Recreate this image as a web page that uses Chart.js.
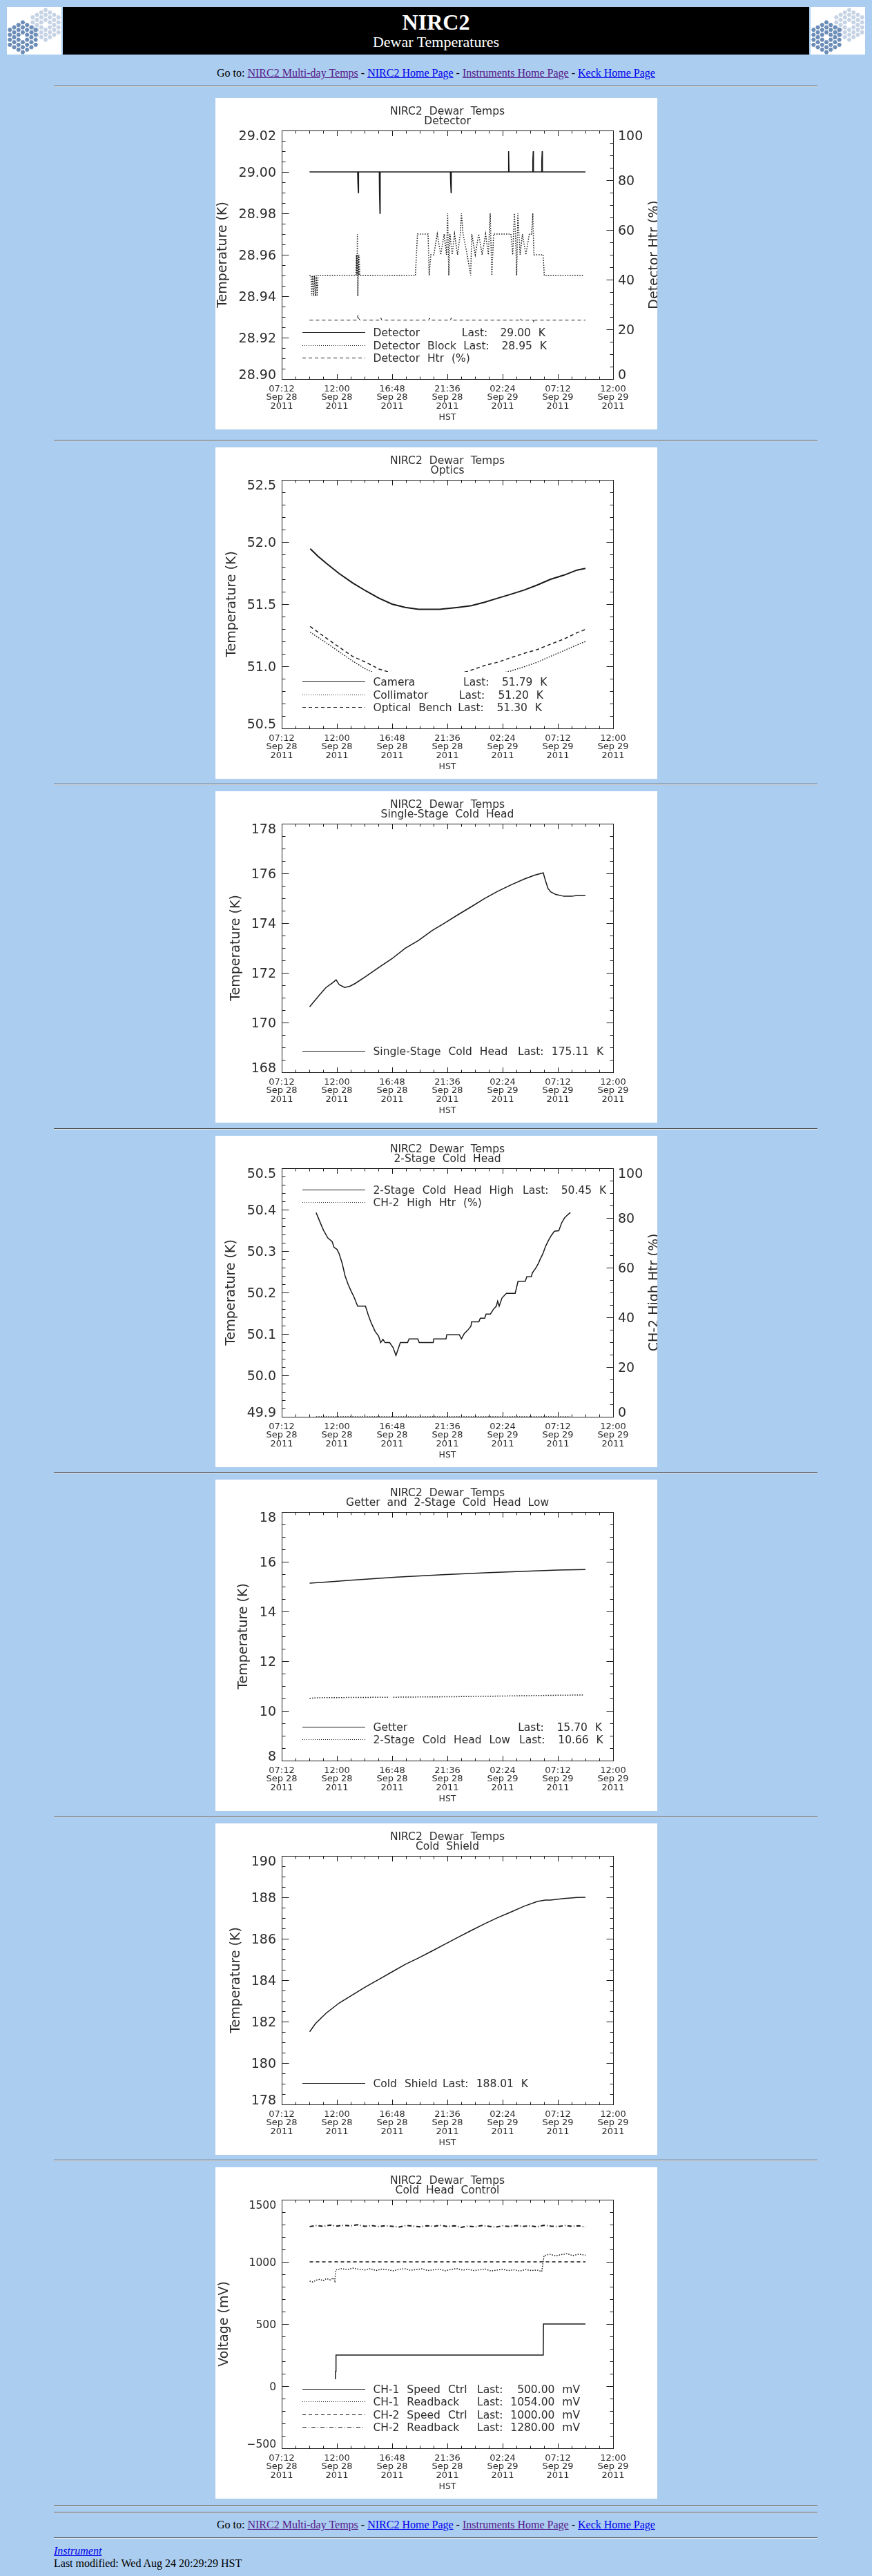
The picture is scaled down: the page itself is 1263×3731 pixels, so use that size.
<!DOCTYPE html>
<html lang="en">
<head>
<meta charset="UTF-8">
<title>NIRC2 Dewar Temperatures</title>
<style>
  body { margin: 0; background: #abcdef; font-family: 'Liberation Serif', 'Times New Roman', serif; color: #000; }
  #page { position: relative; width: 1263px; height: 3731px; overflow: hidden; }
  .logo { position: absolute; top: 10px; }
  #banner { position: absolute; left: 91px; top: 10px; width: 1081px; height: 69px; background: #000; color: #fff; text-align: center; }
  #banner .b1 { position: absolute; left: 0; right: 0; top: 5.5px; font-size: 32px; line-height: 32px; font-weight: bold; }
  #banner .b2 { position: absolute; left: 0; right: 0; top: 40px; font-size: 22px; line-height: 22px; }
  .goto { position: absolute; left: 0; width: 1263px; text-align: center; font-size: 16px; line-height: 16px; }
  .hr { position: absolute; left: 78px; width: 1106px; height: 0; border-top: 1px solid #555; border-bottom: 1px solid #e4ecf5; }
  a.v { color: #551a8b; }
  a.n { color: #0000ee; }
  canvas.plot { position: absolute; left: 312px; }
  .foot { position: absolute; left: 78px; font-size: 16px; line-height: 16px; white-space: nowrap; }
</style>
</head>
<body>
<div id="page">
  <canvas id="logoL" class="logo" width="79" height="69" style="left:10px"></canvas>
  <div id="banner">
    <div class="b1">NIRC2</div>
    <div class="b2">Dewar Temperatures</div>
  </div>
  <canvas id="logoR" class="logo" width="79" height="69" style="left:1174px"></canvas>

  <div class="goto" style="top:98px">Go to: <a class="v" href="#">NIRC2 Multi-day Temps</a> - <a class="n" href="#">NIRC2 Home Page</a> - <a class="v" href="#">Instruments Home Page</a> - <a class="n" href="#">Keck Home Page</a></div>
  <div class="hr" style="top:124px"></div>

  <canvas id="c1" class="plot" width="640" height="480" style="top:142px"></canvas>
  <div class="hr" style="top:637px"></div>
  <canvas id="c2" class="plot" width="640" height="480" style="top:648px"></canvas>
  <div class="hr" style="top:1135px"></div>
  <canvas id="c3" class="plot" width="640" height="480" style="top:1146px"></canvas>
  <div class="hr" style="top:1634px"></div>
  <canvas id="c4" class="plot" width="640" height="480" style="top:1645px"></canvas>
  <div class="hr" style="top:2132px"></div>
  <canvas id="c5" class="plot" width="640" height="480" style="top:2143px"></canvas>
  <div class="hr" style="top:2630px"></div>
  <canvas id="c6" class="plot" width="640" height="480" style="top:2641px"></canvas>
  <div class="hr" style="top:3128px"></div>
  <canvas id="c7" class="plot" width="640" height="480" style="top:3139px"></canvas>

  <div class="hr" style="top:3628px"></div>
  <div class="hr" style="top:3638px"></div>
  <div class="goto" style="top:3649px">Go to: <a class="v" href="#">NIRC2 Multi-day Temps</a> - <a class="n" href="#">NIRC2 Home Page</a> - <a class="v" href="#">Instruments Home Page</a> - <a class="n" href="#">Keck Home Page</a></div>
  <div class="hr" style="top:3675px"></div>
  <div class="foot" style="top:3687px"><a class="n" href="#"><i>Instrument</i></a></div>
  <div class="foot" style="top:3705px">Last modified: Wed Aug 24 20:29:29 HST</div>
</div>

<script src="https://cdn.jsdelivr.net/npm/chart.js"></script>
<script>
// x values are hours after 07:12 HST, Sep 28 2011
const xTickTimes = ['07:12', '12:00', '16:48', '21:36', '02:24', '07:12', '12:00'];
const xTickDays = ['Sep 28', 'Sep 28', 'Sep 28', 'Sep 28', 'Sep 29', 'Sep 29', 'Sep 29'];
const xTickYear = '2011';

// Detector
const detHours = [2.42, 6.6, 6.62, 6.66, 6.68, 8.48, 8.5, 8.54, 8.56, 14.66, 14.68, 14.72, 14.74,
  19.68, 19.7, 19.74, 19.76, 21.8, 21.82, 21.86, 21.88, 22.58, 22.6, 22.64, 22.66, 26.4];
const detTemp = [29.00, 29.00, 28.995, 28.99, 29.00, 29.00, 28.99, 28.98, 29.00, 29.00, 28.995, 28.99, 29.00,
  29.00, 29.005, 29.01, 29.00, 29.00, 29.005, 29.01, 29.00, 29.00, 29.005, 29.01, 29.00, 29.00];
const blockHours = [2.42, 2.55, 2.6, 2.68, 2.76, 2.84, 2.92, 3.0, 3.08, 3.16,
  6.45, 6.5, 6.54, 6.58, 6.62, 6.66, 6.7, 6.74, 6.78, 11.62, 11.8,
  12.72, 12.82, 12.96, 13.22, 13.52, 13.82, 14.12, 14.32, 14.42, 14.52, 14.62, 14.82, 15.02, 15.28,
  15.52, 15.62, 15.76, 16.12, 16.42, 16.52, 16.82, 17.12, 17.42, 17.72, 17.96, 18.12, 18.26, 18.42,
  19.92, 20.08, 20.22, 20.32, 20.42, 20.52, 20.72, 20.92, 21.22, 21.52, 21.72, 21.82, 21.92,
  22.72, 22.82, 26.22];
const blockTemp = [28.95, 28.95, 28.94, 28.95, 28.94, 28.95, 28.94, 28.95, 28.94, 28.95,
  28.95, 28.96, 28.95, 28.97, 28.94, 28.96, 28.95, 28.96, 28.95, 28.95, 28.97,
  28.97, 28.95, 28.96, 28.96, 28.97, 28.96, 28.97, 28.96, 28.98, 28.95, 28.97, 28.96, 28.97, 28.96,
  28.97, 28.98, 28.97, 28.96, 28.95, 28.97, 28.96, 28.97, 28.96, 28.97, 28.96, 28.98, 28.95, 28.97,
  28.97, 28.96, 28.98, 28.97, 28.95, 28.98, 28.96, 28.97, 28.96, 28.97, 28.97, 28.98, 28.96,
  28.96, 28.95, 28.95];
const htrHours = [2.42, 6.58, 6.62, 6.7, 6.8, 8.58, 8.62, 8.7, 12.78, 12.84, 12.92, 14.68, 14.72, 14.8,
  20.66, 20.72, 20.8, 21.86, 21.92, 22.0, 26.4];
const htrPct = [23.7, 23.7, 25.8, 24.4, 23.7, 23.7, 24.6, 23.7, 23.7, 24.5, 23.7, 23.7, 24.6, 23.7,
  23.7, 24.4, 23.7, 23.7, 22.6, 23.7, 23.7];

// Optics
const camHours = [2.48, 3.16, 3.85, 5.0, 6.15, 7.3, 8.45, 9.59, 10.74, 11.89, 13.73, 15.33, 16.48, 17.63,
  18.78, 19.93, 21.07, 22.22, 23.37, 24.52, 25.67, 26.4];
const camTemp = [51.946, 51.885, 51.83, 51.746, 51.672, 51.607, 51.548, 51.50, 51.474, 51.459, 51.459, 51.474,
  51.487, 51.515, 51.548, 51.58, 51.613, 51.654, 51.70, 51.733, 51.774, 51.787];
const colHours = [2.48, 3.85, 5.0, 6.15, 7.3, 7.64, 9.5, 12, 14.5, 17, 19.93, 21.07, 22.22, 23.37, 24.52, 25.67, 26.4];
const colTemp = [51.274, 51.19, 51.117, 51.043, 50.978, 50.963, 50.9, 50.85, 50.85, 50.9, 50.963, 50.996,
  51.033, 51.08, 51.126, 51.172, 51.20];
const benchHours = [2.48, 3.16, 3.85, 5.0, 6.15, 7.3, 8.45, 9.13, 10.5, 12.0, 13.5, 15.0, 16.14, 16.48, 17.63,
  18.78, 19.93, 21.07, 22.22, 23.37, 24.52, 25.67, 26.4];
const benchTemp = [51.32, 51.274, 51.228, 51.154, 51.08, 51.033, 50.978, 50.959, 50.935, 50.92, 50.92, 50.935,
  50.959, 50.969, 51.006, 51.033, 51.07, 51.104, 51.135, 51.178, 51.219, 51.27, 51.296];

// Single-stage cold head
const singleHours = [2.43, 3.16, 3.85, 4.43, 4.73, 5.0, 5.46, 5.92, 6.38, 7.3, 8.45, 9.59, 10.74, 11.89, 13.04,
  14.19, 15.33, 16.48, 17.63, 18.78, 19.93, 21.07, 21.99, 22.73, 22.91, 23.14, 23.37, 23.83, 24.52, 25.2, 25.67, 26.4];
const singleTemp = [170.63, 171.04, 171.41, 171.6, 171.72, 171.52, 171.41, 171.46, 171.57, 171.85, 172.22, 172.57,
  172.99, 173.3, 173.69, 174.01, 174.34, 174.66, 174.99, 175.28, 175.54, 175.77, 175.93, 176.02, 175.73, 175.4,
  175.26, 175.15, 175.08, 175.08, 175.11, 175.11];

// 2-stage cold head
const ch2Hours = [2.99, 3.24, 3.62, 4.0, 4.38, 4.55, 4.81, 5.0, 5.26, 5.51, 5.77, 6.02, 6.27, 6.6, 7.28, 7.53,
  7.79, 8.12, 8.42, 8.6, 8.8, 8.98, 9.38, 9.68, 9.93, 10.31, 10.94, 11.07, 11.83, 11.95, 13.17, 13.22, 14.28,
  14.35, 15.44, 15.62, 15.87, 16.17, 16.45, 16.5, 17.13, 17.26, 17.64, 17.76, 18.14, 18.39, 18.65, 18.77, 18.9,
  19.15, 19.53, 20.29, 20.54, 21.17, 21.3, 21.68, 21.8, 22.06, 22.31, 22.44, 22.69, 22.94, 23.19, 23.44, 23.7,
  24.08, 24.33, 24.58, 24.83, 25.09];
const ch2Temp = [50.393, 50.376, 50.351, 50.332, 50.323, 50.309, 50.304, 50.293, 50.27, 50.24, 50.22, 50.204,
  50.19, 50.167, 50.167, 50.145, 50.126, 50.106, 50.095, 50.079, 50.087, 50.079, 50.079, 50.067, 50.048, 50.079,
  50.079, 50.088, 50.088, 50.079, 50.079, 50.088, 50.088, 50.098, 50.098, 50.088, 50.101, 50.109, 50.119, 50.129,
  50.129, 50.138, 50.138, 50.148, 50.148, 50.159, 50.167, 50.179, 50.167, 50.187, 50.198, 50.198, 50.227, 50.227,
  50.238, 50.238, 50.248, 50.258, 50.27, 50.279, 50.293, 50.312, 50.326, 50.338, 50.348, 50.349, 50.368, 50.38,
  50.387, 50.393];
const ch2HtrHours = [2.99, 25.09];
const ch2HtrPct = [0, 0];

// Getter and 2-stage low
const getterHours = [2.43, 4, 6, 8, 10, 12, 14, 16, 18, 20, 22, 24, 26.4];
const getterTemp = [15.14, 15.19, 15.26, 15.32, 15.38, 15.43, 15.48, 15.52, 15.56, 15.6, 15.63, 15.67, 15.69];
const lowHours = [2.43, 3.0, 6.0, 9.3, 9.5, 9.7, 12, 15, 18, 21, 24, 26.2];
const lowTemp = [10.5, 10.53, 10.54, 10.55, null, 10.55, 10.56, 10.57, 10.59, 10.61, 10.63, 10.64];

// Cold shield
const shieldHours = [2.43, 2.93, 3.85, 5.0, 6.15, 7.3, 8.45, 9.59, 10.74, 11.89, 13.04, 14.19, 15.33, 16.48,
  17.63, 18.78, 19.93, 21.07, 22.22, 22.91, 23.37, 24.52, 25.67, 26.4];
const shieldTemp = [181.51, 181.9, 182.4, 182.9, 183.29, 183.68, 184.04, 184.4, 184.76, 185.07, 185.4, 185.74,
  186.07, 186.4, 186.72, 187.02, 187.29, 187.57, 187.8, 187.87, 187.87, 187.94, 187.99, 188.0];

// Cold head control
const spd1Hours = [4.66, 4.68, 4.72, 22.73, 22.75, 26.4];
const spd1mV = [50, 120, 250, 250, 500, 500];
const rb1Hours = [2.43, 2.7, 3.0, 3.3, 3.6, 3.9, 4.2, 4.5, 4.62, 4.7, 5.2, 5.7, 6.2, 6.7, 7.2, 7.7, 8.2, 8.7,
  9.2, 9.7, 10.2, 10.7, 11.2, 11.7, 12.2, 12.7, 13.2, 13.7, 14.2, 14.7, 15.2, 15.7, 16.2, 16.7, 17.2, 17.7, 18.2,
  18.7, 19.2, 19.7, 20.2, 20.7, 21.2, 21.7, 22.2, 22.6, 22.8, 23.3, 23.8, 24.3, 24.8, 25.3, 25.8, 26.4];
const rb1mV = [845, 838, 852, 860, 848, 866, 855, 870, 845, 935, 945, 938, 950, 940, 935, 945, 930, 942, 936,
  928, 940, 945, 932, 938, 944, 930, 936, 942, 928, 938, 946, 934, 940, 930, 936, 942, 926, 934, 940, 930, 936,
  926, 938, 930, 934, 922, 1050, 1062, 1048, 1058, 1066, 1050, 1062, 1054];
const spd2Hours = [2.43, 26.4];
const spd2mV = [1000, 1000];
const rb2Hours = [2.43, 3.0, 3.6, 4.2, 4.8, 5.4, 6.0, 6.6, 7.2, 7.8, 8.4, 9.0, 9.6, 10.2, 10.8, 11.4, 12.0, 12.6,
  13.2, 13.8, 14.4, 15.0, 15.6, 16.2, 16.8, 17.4, 18.0, 18.6, 19.2, 19.8, 20.4, 21.0, 21.6, 22.2, 22.8, 23.4, 24.0,
  24.6, 25.2, 25.8, 26.4];
const rb2mV = [1284, 1292, 1286, 1296, 1288, 1294, 1290, 1298, 1286, 1292, 1284, 1290, 1286, 1280, 1292, 1288,
  1282, 1290, 1286, 1294, 1284, 1290, 1278, 1288, 1282, 1292, 1286, 1280, 1290, 1284, 1292, 1286, 1290, 1282,
  1294, 1288, 1284, 1292, 1286, 1290, 1280];

const FONT = "'DejaVu Sans', 'Noto Sans', sans-serif";
const INK = '#1a1a1a';
const TEXT = '#2b2b2b';
const CAP = 0.729;
const DASH = { solid: [], dotted: [1.5, 2], dashed: [5, 4], dashdot: [6, 3, 1, 3] };
const XAX = { min: 0, max: 28.8, step: 4.8, minor: 4 };

function stepList(min, max, step) {
  const out = [];
  for (let i = 0; min + i * step <= max + step * 1e-6; i++) out.push(min + i * step);
  return out;
}

function fmt(v, dec) {
  const s = Math.abs(v).toFixed(dec);
  return v < 0 ? '\u2212' + s : s;
}

// draws the IDL-style frame, ticks, labels and legend
function idlPlot(o) {
  return {
    id: 'idlPlot',
    beforeDraw(chart) {
      const c = chart.ctx;
      c.save();
      c.fillStyle = '#fff';
      c.fillRect(0, 0, chart.width, chart.height);
      c.restore();
    },
    afterDatasetsDraw(chart) {
      const c = chart.ctx, a = chart.chartArea;
      const xs = chart.scales.x, ys = chart.scales.y, ys2 = chart.scales.y2;
      const mid = (a.top + a.bottom) / 2, cx = (a.left + a.right) / 2;
      const seg = (x1, y1, x2, y2) => { c.beginPath(); c.moveTo(x1, y1); c.lineTo(x2, y2); c.stroke(); };
      const font = px => { c.font = px + 'px ' + FONT; };
      c.save();
      c.lineWidth = 1;
      c.strokeStyle = INK;

      // legend, with the plot erased behind it
      const rows = o.legend;
      const rowY = i => Math.round(o.legendTop ? a.top + 31 + i * 18.3 : a.bottom - 31 - (rows.length - 1 - i) * 18.3);
      c.fillStyle = '#fff';
      if (o.legendTop) c.fillRect(a.left + 1, a.top + 1, a.width - 1, rowY(rows.length - 1) + 12 - a.top);
      else c.fillRect(a.left + 1, rowY(0) - 14, a.width - 1, a.bottom - rowY(0) + 14);
      c.fillStyle = TEXT;
      font(15.5);
      c.wordSpacing = '6px';
      rows.forEach((r, i) => {
        const y = rowY(i), base = y + 5.6;
        c.lineWidth = r.style === 'dotted' ? 1 : 1.2;
        c.setLineDash(r.style === 'dotted' ? [1, 2] : DASH[r.style]);
        seg(126, y + 0.5, 217, y + 0.5);
        c.setLineDash([]);
        c.lineWidth = 1;
        c.textAlign = 'left';
        c.fillText(r.name, 228.5, base);
        if (r.last) {
          c.fillText('Last:', r.lx, base);
          if (r.vr) { c.textAlign = 'right'; c.fillText(r.last, r.vr, base); }
          else c.fillText(r.last, r.vx, base);
        }
      });
      c.wordSpacing = '0px';

      // frame and ticks
      c.strokeRect(a.left + 0.5, a.top + 0.5, a.width, a.height);
      stepList(XAX.min, XAX.max, XAX.step / XAX.minor).forEach((v, i) => {
        const px = Math.round(xs.getPixelForValue(v)) + 0.5;
        const len = i % XAX.minor ? 3.5 : 7;
        seg(px, a.bottom, px, a.bottom - len);
        seg(px, a.top + 1, px, a.top + 1 + len);
      });
      const yTicks = (scale, Y, x0, dir) => stepList(Y.min, Y.max, Y.step / Y.minor).forEach((v, i) => {
        const py = Math.round(scale.getPixelForValue(v)) + 0.5;
        seg(x0, py, x0 + dir * (i % Y.minor ? 5 : 10), py);
      });
      yTicks(ys, o.y, a.left + 0.5, 1);
      if (o.y2) yTicks(ys2, o.y2, a.right + 0.5, -1);
      else yTicks(ys, o.y, a.right + 0.5, -1);

      // tick labels
      const yLabels = (scale, Y, x, align) => {
        const size = Y.size || 19;
        font(size);
        c.textAlign = align;
        const vals = stepList(Y.min, Y.max, Y.step);
        let w = 0;
        vals.forEach((v, i) => {
          const t = fmt(v, Y.dec);
          w = Math.max(w, c.measureText(t).width);
          const shift = i === 0 ? -7 : i === vals.length - 1 ? 7 : 0;
          c.fillText(t, x, scale.getPixelForValue(v) + size * CAP / 2 + shift);
        });
        return w;
      };
      yLabels(ys, o.y, a.left - 8, 'right');
      const w2 = o.y2 ? yLabels(ys2, o.y2, a.right + 7, 'left') : 0;

      font(13);
      c.textAlign = 'center';
      stepList(XAX.min, XAX.max, XAX.step).forEach((v, i) => {
        const px = xs.getPixelForValue(v);
        c.fillText(xTickTimes[i], px, a.bottom + 18.1);
        c.fillText(xTickDays[i], px, a.bottom + 30.4);
        c.fillText(xTickYear, px, a.bottom + 42.7);
      });
      font(12.5);
      c.fillText('HST', cx, a.bottom + 58.6);

      // titles
      font(15.5);
      c.wordSpacing = '5px';
      c.fillText('NIRC2 Dewar Temps', cx, 24);
      c.fillText(o.title, cx, 38.3);
      c.wordSpacing = '0px';

      font(19);
      const vtext = (t, bx) => {
        c.save();
        c.translate(bx, mid);
        c.rotate(-Math.PI / 2);
        c.textAlign = 'center';
        c.fillText(t, 0, 0);
        c.restore();
      };
      vtext(o.yTitle, o.yTitleX + 19 * CAP);
      if (o.y2) vtext(o.y2.title, a.right + 7 + w2 + 7.5 + 19 * CAP);
      c.restore();
    }
  };
}

function makePlot(id, spec) {
  const scales = {
    x: { type: 'linear', display: false, min: XAX.min, max: XAX.max },
    y: { type: 'linear', display: false, min: spec.frame.y.min, max: spec.frame.y.max }
  };
  if (spec.frame.y2) scales.y2 = { type: 'linear', display: false, position: 'right', min: spec.frame.y2.min, max: spec.frame.y2.max };
  return new Chart(document.getElementById(id), {
    type: 'line',
    data: {
      datasets: spec.series.map(s => ({
        data: s.xs.map((x, i) => ({ x: x, y: s.ys[i] })),
        yAxisID: s.axis || 'y',
        borderColor: INK,
        borderWidth: s.width || (s.style === 'dotted' ? 1.5 : 1),
        borderDash: DASH[s.style],
        pointRadius: 0,
        tension: 0,
        fill: false,
        spanGaps: false
      }))
    },
    options: {
      responsive: false,
      animation: false,
      devicePixelRatio: 1,
      events: [],
      layout: { padding: { left: 96, right: 64, top: 47, bottom: 73 } },
      plugins: { legend: { display: false }, tooltip: { enabled: false } },
      scales: scales
    },
    plugins: [idlPlot(spec.frame)]
  });
}

makePlot('c1', {
  series: [
    { xs: detHours, ys: detTemp, style: 'solid', width: 1.5 },
    { xs: blockHours, ys: blockTemp, style: 'dotted' },
    { xs: htrHours, ys: htrPct, style: 'dashed', axis: 'y2' }
  ],
  frame: {
    title: 'Detector', yTitle: 'Temperature (K)', yTitleX: 1.9,
    y: { min: 28.90, max: 29.02, step: 0.02, minor: 4, dec: 2 },
    y2: { min: 0, max: 100, step: 20, minor: 4, dec: 0, title: 'Detector Htr (%)' },
    legend: [
      { style: 'solid', name: 'Detector', last: '29.00 K', lx: 356.8, vx: 412.5 },
      { style: 'dotted', name: 'Detector Block', last: '28.95 K', lx: 359.2, vx: 414.5 },
      { style: 'dashed', name: 'Detector Htr (%)' }
    ]
  }
});

makePlot('c2', {
  series: [
    { xs: camHours, ys: camTemp, style: 'solid', width: 2 },
    { xs: colHours, ys: colTemp, style: 'dotted' },
    { xs: benchHours, ys: benchTemp, style: 'dashed', width: 1.5 }
  ],
  frame: {
    title: 'Optics', yTitle: 'Temperature (K)', yTitleX: 15.3,
    y: { min: 50.5, max: 52.5, step: 0.5, minor: 5, dec: 1 },
    legend: [
      { style: 'solid', name: 'Camera', last: '51.79 K', lx: 359, vx: 415 },
      { style: 'dotted', name: 'Collimator', last: '51.20 K', lx: 352.8, vx: 409.5 },
      { style: 'dashed', name: 'Optical Bench', last: '51.30 K', lx: 351.3, vx: 407.5 }
    ]
  }
});

makePlot('c3', {
  series: [{ xs: singleHours, ys: singleTemp, style: 'solid', width: 1.5 }],
  frame: {
    title: 'Single-Stage Cold Head', yTitle: 'Temperature (K)', yTitleX: 21,
    y: { min: 168, max: 178, step: 2, minor: 4, dec: 0 },
    legend: [{ style: 'solid', name: 'Single-Stage Cold Head', last: '175.11 K', lx: 438, vx: 486.8 }]
  }
});

makePlot('c4', {
  series: [
    { xs: ch2Hours, ys: ch2Temp, style: 'solid', width: 1.5 },
    { xs: ch2HtrHours, ys: ch2HtrPct, style: 'dotted', axis: 'y2' }
  ],
  frame: {
    title: '2-Stage Cold Head', yTitle: 'Temperature (K)', yTitleX: 13.8, legendTop: true,
    y: { min: 49.9, max: 50.5, step: 0.1, minor: 5, dec: 1 },
    y2: { min: 0, max: 100, step: 20, minor: 4, dec: 0, title: 'CH-2 High Htr (%)' },
    legend: [
      { style: 'solid', name: '2-Stage Cold Head High', last: '50.45 K', lx: 445, vx: 500.7 },
      { style: 'dotted', name: 'CH-2 High Htr (%)' }
    ]
  }
});

makePlot('c5', {
  series: [
    { xs: getterHours, ys: getterTemp, style: 'solid', width: 1.5 },
    { xs: lowHours, ys: lowTemp, style: 'dotted' }
  ],
  frame: {
    title: 'Getter and 2-Stage Cold Head Low', yTitle: 'Temperature (K)', yTitleX: 32.5,
    y: { min: 8, max: 18, step: 2, minor: 4, dec: 0 },
    legend: [
      { style: 'solid', name: 'Getter', last: '15.70 K', lx: 438.2, vx: 494.5 },
      { style: 'dotted', name: '2-Stage Cold Head Low', last: '10.66 K', lx: 440, vx: 496.3 }
    ]
  }
});

makePlot('c6', {
  series: [{ xs: shieldHours, ys: shieldTemp, style: 'solid', width: 1.5 }],
  frame: {
    title: 'Cold Shield', yTitle: 'Temperature (K)', yTitleX: 21,
    y: { min: 178, max: 190, step: 2, minor: 4, dec: 0 },
    legend: [{ style: 'solid', name: 'Cold Shield', last: '188.01 K', lx: 329, vx: 377.7 }]
  }
});

makePlot('c7', {
  series: [
    { xs: spd1Hours, ys: spd1mV, style: 'solid', width: 1.5 },
    { xs: rb1Hours, ys: rb1mV, style: 'dotted' },
    { xs: spd2Hours, ys: spd2mV, style: 'dashed', width: 1.3 },
    { xs: rb2Hours, ys: rb2mV, style: 'dashdot', width: 2 }
  ],
  frame: {
    title: 'Cold Head Control', yTitle: 'Voltage (mV)', yTitleX: 3.8,
    y: { min: -500, max: 1500, step: 500, minor: 5, dec: 0, size: 15.5 },
    legend: [
      { style: 'solid', name: 'CH-1 Speed Ctrl', last: '500.00 mV', lx: 379, vr: 528 },
      { style: 'dotted', name: 'CH-1 Readback', last: '1054.00 mV', lx: 379, vr: 528 },
      { style: 'dashed', name: 'CH-2 Speed Ctrl', last: '1000.00 mV', lx: 379, vr: 528 },
      { style: 'dashdot', name: 'CH-2 Readback', last: '1280.00 mV', lx: 379, vr: 528 }
    ]
  }
});

// Keck mirror logos in the banner
function drawLogo(id) {
  const g = document.getElementById(id).getContext('2d');
  g.fillStyle = '#fff';
  g.fillRect(0, 0, 79, 69);
  const R = 4.15, H = Math.sqrt(3) * R;
  const mirror = (cx, cy, col) => {
    g.fillStyle = col;
    for (let q = -3; q <= 3; q++) {
      for (let r = -3; r <= 3; r++) {
        if (Math.abs(q + r) > 3 || (q === 0 && r === 0)) continue;
        const px = cx + 1.5 * R * q, py = cy + H * (r + q / 2);
        g.beginPath();
        for (let k = 0; k < 6; k++) {
          const ang = Math.PI / 3 * k;
          g.lineTo(px + (R - 0.8) * Math.cos(ang), py + (R - 0.8) * Math.sin(ang));
        }
        g.closePath();
        g.fill();
      }
    }
  };
  mirror(56, 26, '#c6d3e5');
  mirror(23, 44, '#6b8db8');
}
drawLogo('logoL');
drawLogo('logoR');
</script>
</body>
</html>
